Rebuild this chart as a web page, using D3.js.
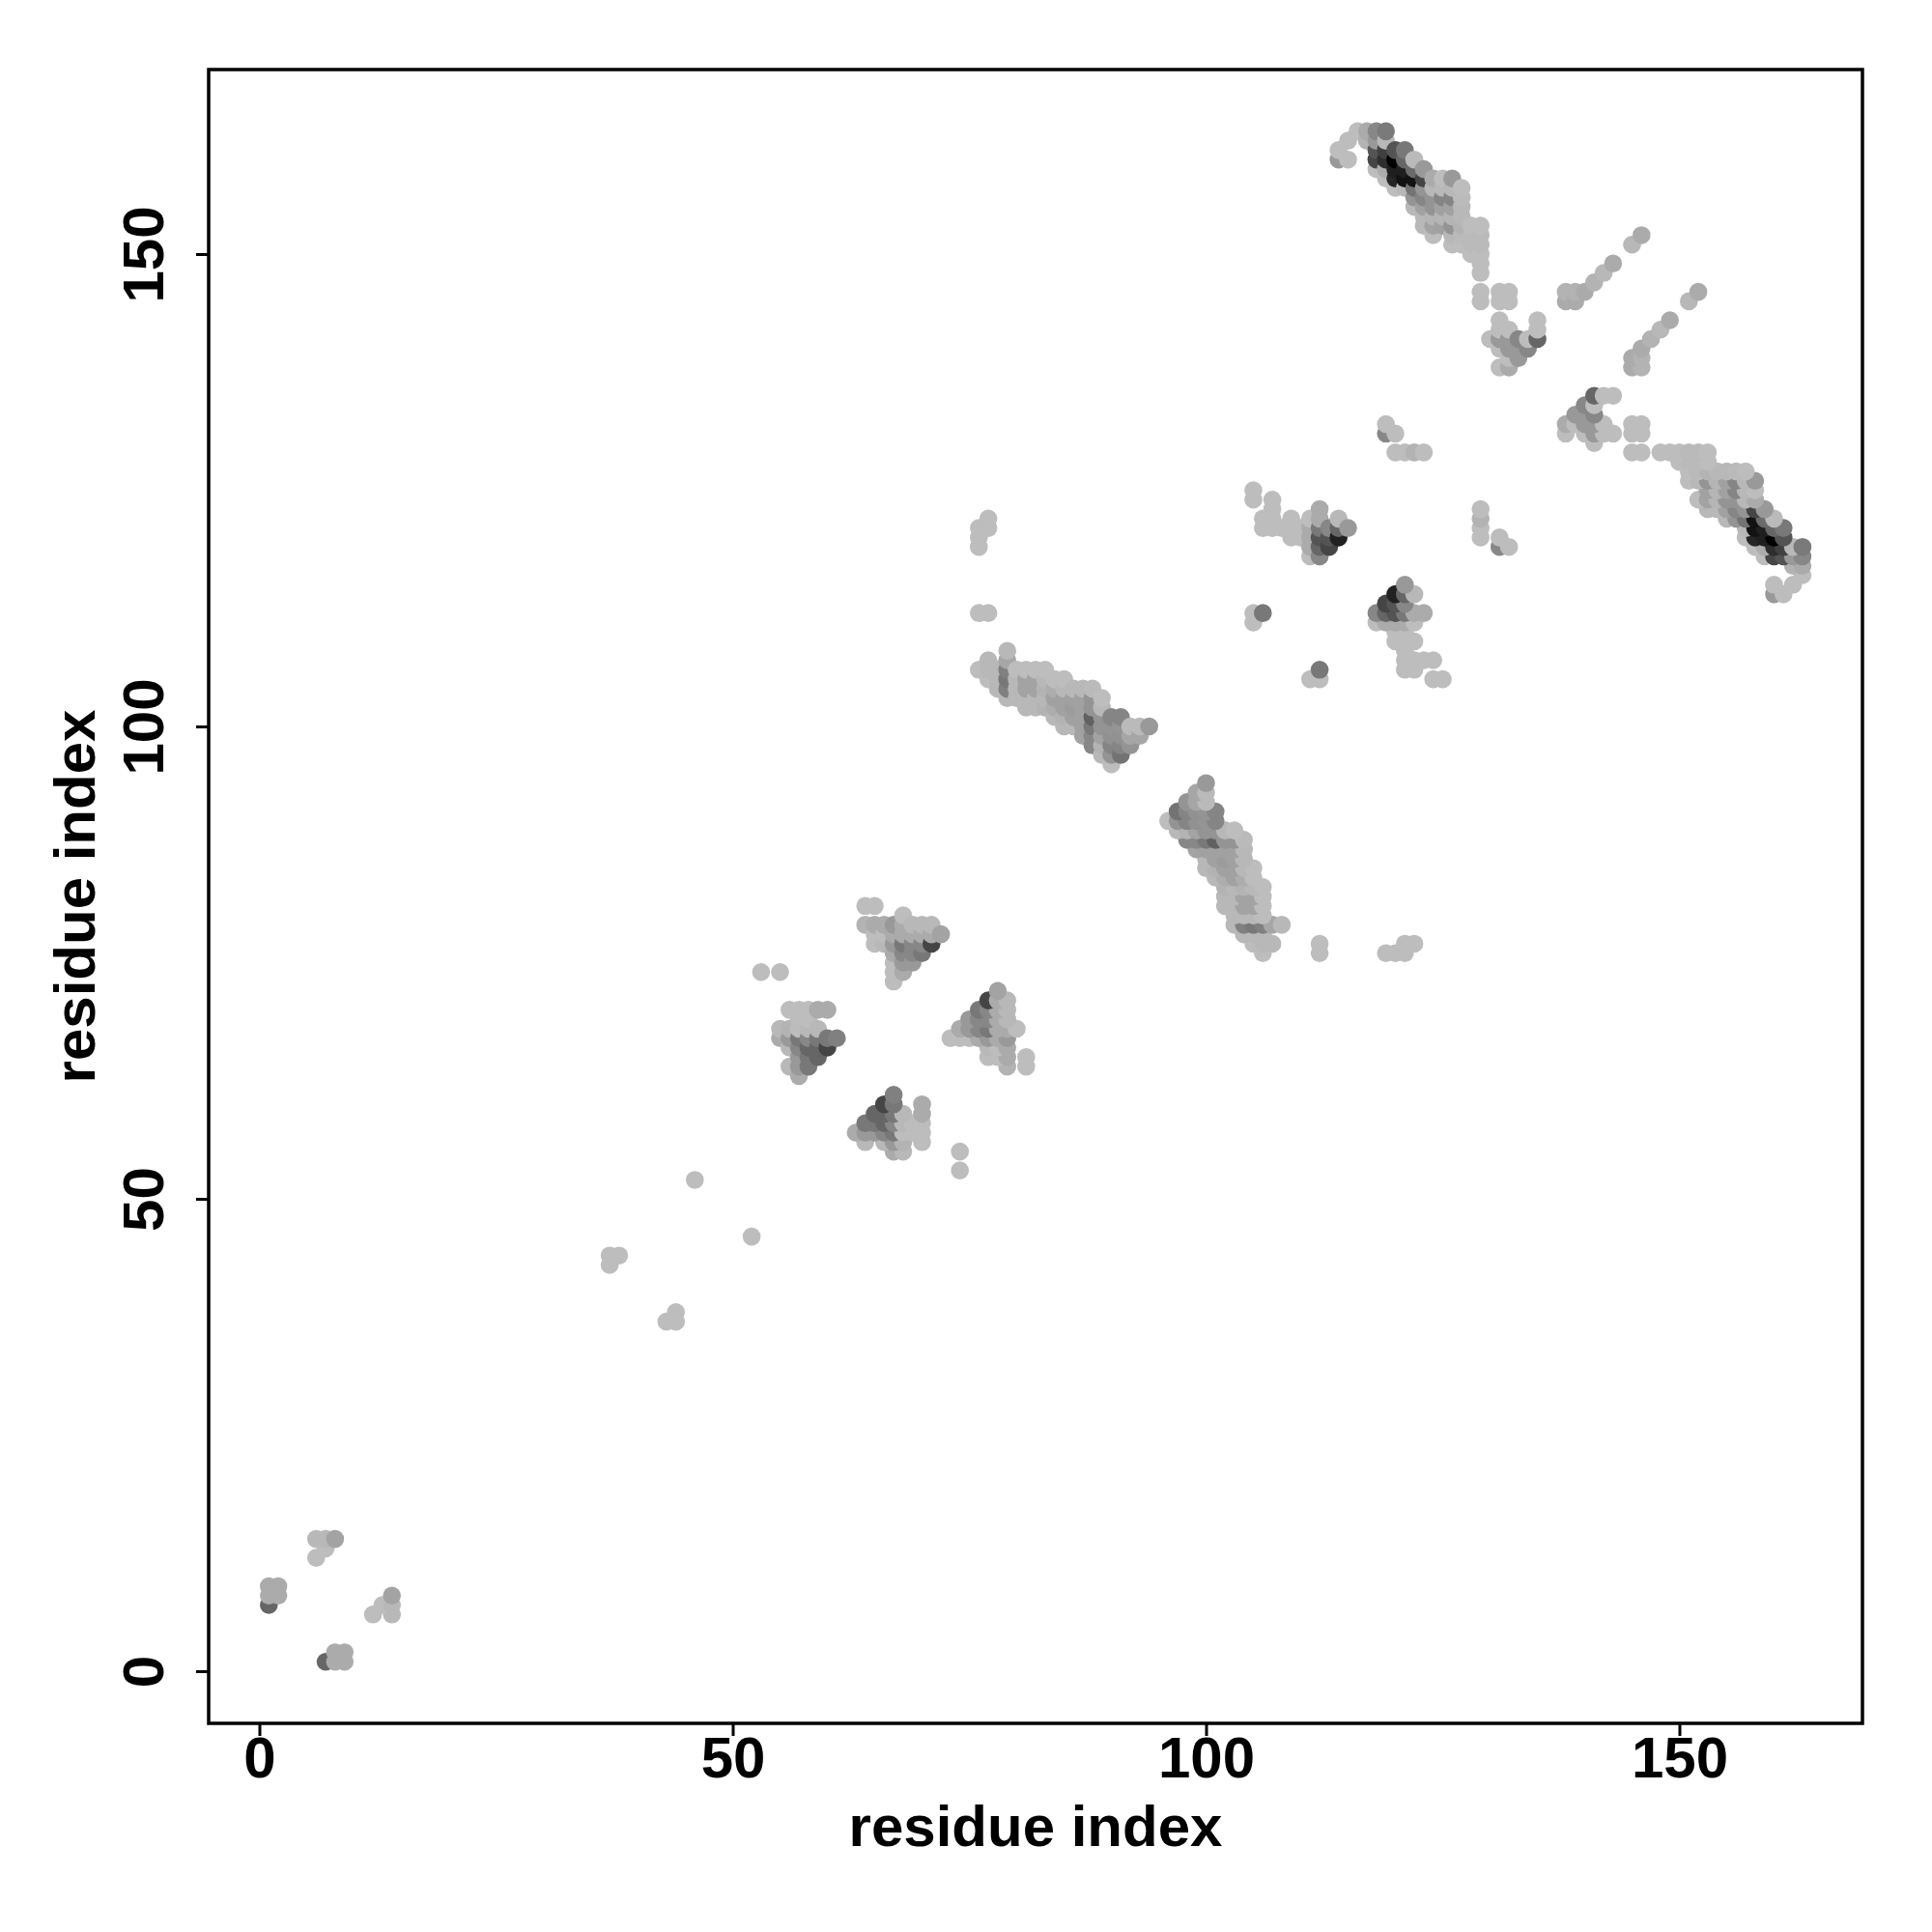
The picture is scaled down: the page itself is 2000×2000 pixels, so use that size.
<!DOCTYPE html>
<html>
<head>
<meta charset="utf-8">
<script src="https://cdn.jsdelivr.net/npm/d3@7/dist/d3.min.js"></script>
<style>
html,body{margin:0;padding:0;background:#fff}
svg{display:block}
text{font-family:"Liberation Sans",Arial,sans-serif;font-weight:700;fill:#000}
</style>
</head>
<body>
<svg id="chart" width="2000" height="2000"></svg>
<script>
// Each row: residue a, first residue b, then darkness (0-100) at b, b+1, ... (0 = no contact).
// The map is symmetric: every (a,b) is also drawn as (b,a).
const terminalContacts = [
  [1,7,60,33,33],[2,8,33,33],[6,12,26,0,28],[7,13,26,28],[8,14,36],
  [37,43,26,26],[38,44,26],[46,52,26],[53,74,26],[55,74,26]
];
const triangleOne = [
  [55,67,33,28],[56,64,28,0,28,40,30,0,26],[57,63,33,40,40,47,53,26,26,26],
  [58,64,53,53,60,47,28,26,26],[59,65,60,60,53,28,0,33],[60,66,73,53,0,0,33],[61,67,50]
];
const triangleTwo = [
  [64,79,30,0,26],[65,77,26,26,33,0,26],[66,77,28,26,33],[67,73,26,26,26,33,40,33,40],
  [68,74,33,40,47,53,33,33,26],[69,75,40,47,47,33,28],[70,76,53,47,33,28],[71,77,73,33,28],[72,78,36]
];
const helixBand = [
  [76,106,26,0,0,0,0,0,26],[76,119,26,26,26],[77,105,26,28,28,0,0,0,0,26],[77,121,26,26],
  [78,104,28,28,28],[79,103,28,50,53,50,35,28],[80,103,28,28,28,26],[81,102,28,28,36,36,26],
  [82,102,28,28,36,36,26],[83,102,30,28,30,28,26],[84,101,28,32,37,32,26],[85,100,28,30,37,37,28,26],
  [86,100,28,37,39,37,28],[87,99,36,37,37,37,37,28],[88,98,47,47,53,62,42,42,27],
  [89,97,28,30,36,42,42,28,26],[90,96,26,42,48,43,42,48],[91,97,55,48,43,42,48],
  [92,98,42,35,27],[93,99,35,27],[94,100,40]
];
const middleContacts = [
  [105,111,26,26],[105,124,26,26],[106,112,53],[106,121,26,26],[107,121,26,26,26,26],[108,121,26],
  [109,120,26,26,26],[110,120,26,26],[111,118,26,33,33,33,26],[112,118,47,60,67,53,33,33],
  [113,119,73,67,47],[114,120,87,60,28],[115,121,40],
  [119,131,47,26],[120,129,26],[120,131,26],[121,129,26],[122,129,30],[123,129,26]
];
const longBand = [
  [114,160,40,26],[115,160,26,0,26],[116,163,26],[117,162,30,33],[118,159,26,73,67,40,47],
  [119,158,26,32,82,75,28,52],[120,157,26,85,88,100,67],[121,157,28,93,88,60,53],
  [122,155,28,42,55,93,58,27],[123,153,28,28,37,48,42,73,40],[124,152,26,36,29,42,42,28,33],
  [125,153,37,29,37,48,28,26],[126,151,26,28,42,29,37,48,28,40],[127,151,26,27,30,28,28,27,26],
  [128,150,26,27,27,26],[129,145,26,26,0,26,26,26,27,27,26]
];
const upperContacts = [
  [130,141,26],[131,138,26,0,26,40,26,26,0,26,26],[132,138,33,26,40,40,26,0,0,26,26],
  [133,139,40,40,47],[134,140,47,26],[135,141,60,26,26],
  [138,145,33,30],[139,145,33,30],[140,146,33],[141,147,30],[142,148,28],[143,149,33],[145,151,28],[146,152,33]
];
const tickValues = [0, 50, 100, 150];
const xLabel = "residue index";
const yLabel = "residue index";

const allRows = [terminalContacts, triangleOne, triangleTwo, helixBand, middleContacts, longBand, upperContacts];
const contacts = [];
allRows.forEach(group => group.forEach(([a, start, ...vals]) => {
  vals.forEach((v, k) => {
    if (v > 0) contacts.push({a, b: start + k, v});
  });
}));
// pairs are painted in order of a, then b, each as (a,b) and (b,a)
contacts.sort((p, q) => d3.ascending(p.a, q.a) || d3.ascending(p.b, q.b));
const marks = contacts.flatMap(c => [{x: c.a, y: c.b, v: c.v}, {x: c.b, y: c.a, v: c.v}]);

const box = {left: 216, right: 1928, top: 72, bottom: 1784};
const x = d3.scaleLinear().domain([0, 150]).range([268.5, 1738.5]);
const y = d3.scaleLinear().domain([0, 150]).range([1730, 263]);
const grey = d3.scaleLinear().domain([0, 100]).range(["#ffffff", "#000000"]);

const svg = d3.select("#chart");
svg.append("rect").attr("width", 2000).attr("height", 2000).attr("fill", "#fff");

svg.append("g").selectAll("circle").data(marks).join("circle")
  .attr("cx", d => x(d.x))
  .attr("cy", d => y(d.y))
  .attr("r", 9.3)
  .attr("fill", d => grey(d.v));

const xAxis = svg.append("g").attr("transform", `translate(0,${box.bottom})`)
  .call(d3.axisBottom(x).tickValues(tickValues).tickSize(13).tickPadding(8).tickFormat(d3.format("d")));
xAxis.select(".domain").remove();
xAxis.selectAll("line").attr("stroke", "#000").attr("stroke-width", 3);
xAxis.selectAll("text").attr("font-size", 60).attr("dy", null).attr("y", 56);

const yAxis = svg.append("g").attr("transform", `translate(${box.left},0)`)
  .call(d3.axisLeft(y).tickValues(tickValues).tickSize(13).tickPadding(8).tickFormat(d3.format("d")));
yAxis.select(".domain").remove();
yAxis.selectAll("line").attr("stroke", "#000").attr("stroke-width", 3);
yAxis.selectAll("text")
  .attr("font-size", 60).attr("dy", null).attr("x", null)
  .attr("text-anchor", "middle")
  .attr("transform", "translate(-47,0) rotate(-90)");

svg.append("rect")
  .attr("x", box.left).attr("y", box.top)
  .attr("width", box.right - box.left).attr("height", box.bottom - box.top)
  .attr("fill", "none").attr("stroke", "#000").attr("stroke-width", 3.5);

svg.append("text").attr("x", (box.left + box.right) / 2).attr("y", 1911)
  .attr("text-anchor", "middle").attr("font-size", 60).text(xLabel);
svg.append("text").attr("transform", `translate(98,${(box.top + box.bottom) / 2}) rotate(-90)`)
  .attr("text-anchor", "middle").attr("font-size", 60).text(yLabel);
</script>
</body>
</html>
